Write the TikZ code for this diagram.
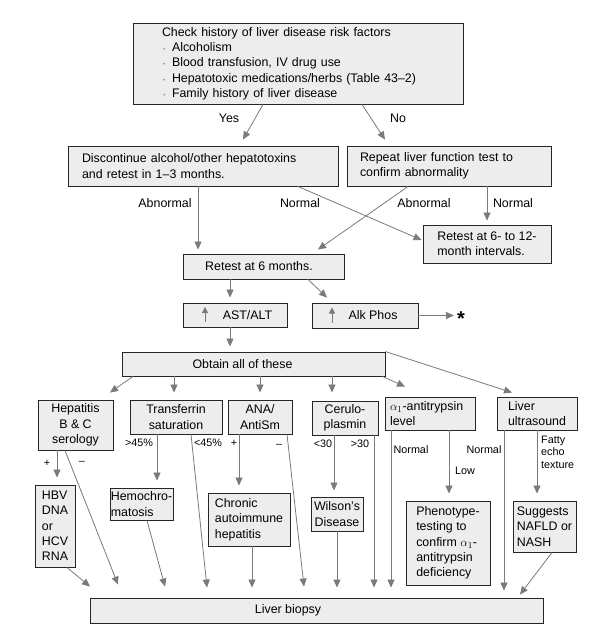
\documentclass[tikz,border=0pt]{standalone}
\usepackage{fontspec}
\setmainfont{Liberation Sans}
\usetikzlibrary{arrows.meta}
\definecolor{boxfill}{HTML}{EDEDED}
\definecolor{linegray}{HTML}{7A7A7A}
\definecolor{bulgray}{HTML}{9A9A9A}
\newcommand{\bulitem}{\hspace*{1pt}\makebox[9pt][l]{\textcolor{bulgray}{\fontsize{7}{7}\selectfont\textbullet}}}
\begin{document}
\begin{tikzpicture}[x=1pt,y=-1pt,
  box/.style={draw=black!85, fill=boxfill, line width=0.9pt, inner sep=0pt, font=\fontsize{12.4}{15.3}\selectfont},
  arr/.style={draw=linegray, line width=0.8pt, -{Triangle[length=8pt,width=7pt,fill=linegray]}},
  uparr/.style={draw=linegray, line width=0.8pt, -{Triangle[length=6pt,width=6pt,fill=linegray]}},
  lbl/.style={inner sep=0pt, font=\fontsize{12.4}{15.3}\selectfont},
  slbl/.style={inner sep=0pt, font=\fontsize{10.8}{12.5}\selectfont}]
\useasboundingbox[fill=white] (0,0) rectangle (608,629);

% boxes
\node[box, minimum width=330pt, minimum height=81pt, text width=272pt, align=left] (top) at (298,63.5)
  {Check history of liver disease risk factors\\ \bulitem Alcoholism\\ \bulitem Blood transfusion, IV drug use\\ \bulitem Hepatotoxic medications/herbs (Table 43–2)\\ \bulitem Family history of liver disease};
\node[box, minimum width=270pt, minimum height=40pt, text width=242pt, align=left] (disc) at (203,166)
  {Discontinue alcohol/other hepatotoxins\\and retest in 1–3 months.};
\node[box, minimum width=204pt, minimum height=40pt, text width=178pt, align=left] (rep) at (449,166)
  {Repeat liver function test to\\confirm abnormality};
\node[box, minimum width=128pt, minimum height=38pt, align=left] (r612) at (487,244)
  {Retest at 6- to 12-\\month intervals.};
\node[box, minimum width=161pt, minimum height=25pt] (r6) at (263.5,266.5) {Retest at 6 months.\hspace*{9pt}};
\node[box, minimum width=104pt, minimum height=24pt] (ast) at (235,315) {\hspace*{25pt}AST/ALT};
\node[box, minimum width=106pt, minimum height=25pt] (alk) at (365,315.5) {\hspace*{16pt}Alk Phos};
\node[inner sep=0pt, font=\fontsize{20}{20}\selectfont\bfseries] (star) at (461,319) {*};
\node[box, minimum width=263pt, minimum height=24pt] (obtain) at (253.5,364) {Obtain all of these\hspace*{22pt}};

\node[box, minimum width=75pt, minimum height=50pt, align=center] (hep) at (75.5,425) {Hepatitis\\B \& C\\serology};
\node[box, minimum width=92pt, minimum height=34pt, align=center] (tsat) at (176,417) {Transferrin\\saturation};
\node[box, minimum width=64pt, minimum height=34pt, align=center] (ana) at (260,417) {ANA/\\AntiSm};
\node[box, minimum width=66pt, minimum height=34pt, align=center] (cer) at (345,418) {Cerulo-\\plasmin};
\node[box, minimum width=90pt, minimum height=33pt, text width=80pt, align=left] (a1) at (430,413.5) {$\alpha_1$-antitrypsin\\level};
\node[box, minimum width=80pt, minimum height=33pt, align=left] (lus) at (537,413.5) {Liver\\ultrasound};

\node[box, minimum width=40pt, minimum height=82pt, align=left] (hbv) at (55,526) {HBV\\DNA\\or\\HCV\\RNA};
\node[box, minimum width=63pt, minimum height=32pt, align=left] (hemo) at (141.5,504) {Hemochro-\\matosis};
\node[box, minimum width=82pt, minimum height=53pt, align=left] (chr) at (249,519.5) {Chronic\\autoimmune\\hepatitis};
\node[box, minimum width=52pt, minimum height=34pt, align=center] (wil) at (337,514) {Wilson's\\Disease};
\node[box, minimum width=84pt, minimum height=84pt, align=left] (phe) at (448,543) {Phenotype-\\testing to\\confirm $\alpha_1$-\\antitrypsin\\deficiency};
\node[box, minimum width=63pt, minimum height=51pt, align=left] (sug) at (544.5,526.5) {Suggests\\NAFLD or\\NASH};

\node[box, minimum width=453pt, minimum height=25pt] (bio) at (316.5,610.5) {Liver biopsy\hspace*{57pt}};

% labels
\node[lbl] (lyes) at (229,118) {Yes};
\node[lbl] (lno) at (398,118) {No};
\node[lbl] (lab1) at (165,203) {Abnormal};
\node[lbl] (lnor1) at (300,203) {Normal};
\node[lbl] (lab2) at (424,203) {Abnormal};
\node[lbl] (lnor2) at (513,203) {Normal};
\node[slbl] (lp1) at (47,463) {+};
\node[slbl] (lm1) at (82,463) {–};
\node[slbl] (lgt45) at (139,443) {>45\%};
\node[slbl] (llt45) at (208,443) {<45\%};
\node[slbl] (lp2) at (234,443) {+};
\node[slbl] (lm2) at (279,446) {–};
\node[slbl] (llt30) at (323,444) {<30};
\node[slbl] (lgt30) at (360,444) {>30};
\node[slbl] (lnor3) at (411,450) {Normal};
\node[slbl] (llow) at (465,471) {Low};
\node[slbl] (lnor4) at (484,450) {Normal};
\node[slbl, align=left, anchor=west] (lfat) at (541,452) {Fatty\\echo\\texture};

% up arrows inside boxes
\draw[uparr] ([xshift=-30pt,yshift=-7pt]ast.center) -- ([xshift=-30pt,yshift=8pt]ast.center);
\draw[uparr] ([xshift=-33pt,yshift=-7pt]alk.center) -- ([xshift=-33pt,yshift=8pt]alk.center);

% connectors
\draw[arr] ([xshift=-35pt]top.south) -- ([xshift=40pt,yshift=6pt]disc.north);
\draw[arr] ([xshift=64pt]top.south) -- ([xshift=-64pt,yshift=6pt]rep.north);
\draw[arr] ([xshift=-5pt]disc.south) -- ([xshift=-65.5pt,yshift=4pt]r6.north);
\draw[arr] ([xshift=95pt]disc.south) -- ([xshift=-1pt,yshift=4pt]r612.west);
\draw[arr] ([xshift=-41pt]rep.south) -- ([xshift=54.5pt,yshift=4pt]r6.north);
\draw[arr] ([xshift=38pt]rep.south) -- ([yshift=4pt]r612.north);
\draw[arr] ([xshift=-33.5pt]r6.south) -- ([xshift=-5pt,yshift=5pt]ast.north);
\draw[arr] ([xshift=44.5pt]r6.south) -- ([xshift=-38pt,yshift=5pt]alk.north);
\draw[arr, shorten >=3pt] (alk.east) -- (star.west |- alk.east);
\draw[arr] ([xshift=-5pt]ast.south) -- ([xshift=-23.5pt,yshift=5pt]obtain.north);
\draw[arr] ([xshift=-120.5pt]obtain.south) -- ([xshift=34.5pt,yshift=7pt]hep.north);
\draw[arr] ([xshift=-79.5pt]obtain.south) -- ([xshift=-2pt,yshift=7pt]tsat.north);
\draw[arr] ([xshift=6.5pt]obtain.south) -- ([yshift=7pt]ana.north);
\draw[arr] ([xshift=78.5pt]obtain.south) -- ([xshift=-13pt,yshift=8pt]cer.north);
\draw[arr] ([xshift=-3pt]obtain.south east) -- ([xshift=-25pt,yshift=10pt]a1.north);
\draw[arr] (obtain.north east) -- ([xshift=-25pt,yshift=4pt]lus.north);

\draw[arr] ([xshift=-18.5pt]hep.south) -- ([xshift=2pt,yshift=7pt]hbv.north);
\draw[arr] ([xshift=-10.5pt]hep.south) -- ([xshift=-198.5pt,yshift=13pt]bio.north);
\draw[arr] ([xshift=12pt]hbv.south) -- ([xshift=-226.5pt,yshift=11pt]bio.north);
\draw[arr] ([xshift=-19pt]tsat.south) -- ([xshift=15.5pt,yshift=7pt]hemo.north);
\draw[arr] ([xshift=15pt]tsat.south) -- ([xshift=-109.5pt,yshift=10pt]bio.north);
\draw[arr] ([xshift=5.5pt]hemo.south) -- ([xshift=-151.5pt,yshift=11pt]bio.north);
\draw[arr] ([xshift=-21pt]ana.south) -- ([xshift=-10pt,yshift=7pt]chr.north);
\draw[arr] ([xshift=27pt]ana.south) -- ([xshift=-12.5pt,yshift=11pt]bio.north);
\draw[arr] ([xshift=3pt]chr.south) -- ([xshift=-64.5pt,yshift=10pt]bio.north);
\draw[arr] ([xshift=-11pt]cer.south) -- ([xshift=-3pt,yshift=6pt]wil.north);
\draw[arr] (wil.south) -- ([xshift=20.5pt,yshift=10pt]bio.north);
\draw[arr] ([xshift=29pt]cer.south) -- ([xshift=57.5pt,yshift=10pt]bio.north);
\draw[arr] ([xshift=-39pt]a1.south) -- ([xshift=74.5pt,yshift=10pt]bio.north);
\draw[arr] ([xshift=19pt]a1.south) -- ([xshift=1pt,yshift=7pt]phe.north);
\draw[arr] ([xshift=-33pt]lus.south) -- ([xshift=187.5pt,yshift=7pt]bio.north);
\draw[arr] (lus.south) -- ([xshift=-7.5pt,yshift=7pt]sug.north);
\draw[arr] ([xshift=7.5pt]sug.south) -- ([xshift=203.5pt,yshift=3pt]bio.north);
\end{tikzpicture}
\end{document}
